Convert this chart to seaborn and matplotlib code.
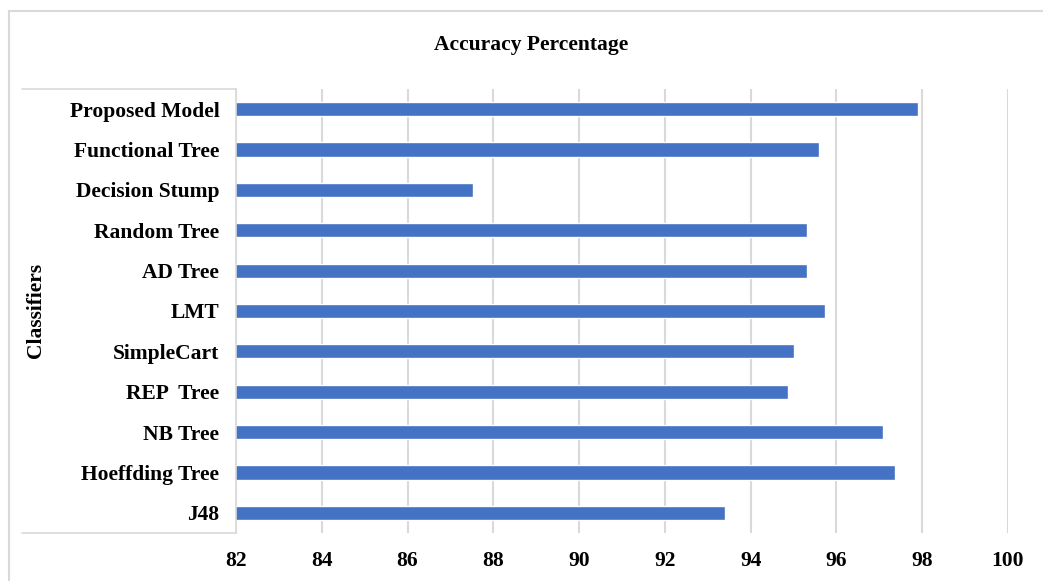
import matplotlib
matplotlib.use("Agg")
import matplotlib.pyplot as plt
import seaborn as sns
import pandas as pd
from matplotlib.patches import Rectangle
from matplotlib.lines import Line2D

classifiers = ["Proposed Model", "Functional Tree", "Decision Stump", "Random Tree",
               "AD Tree", "LMT", "SimpleCart", "REP  Tree", "NB Tree",
               "Hoeffding Tree", "J48"]
accuracy = [97.9, 95.6, 87.53, 95.32, 95.32, 95.74, 95.02, 94.88, 97.08, 97.36, 93.41]
x_ticks = [82, 84, 86, 88, 90, 92, 94, 96, 98, 100]

df = pd.DataFrame({"Classifier": classifiers, "Accuracy": accuracy})

sns.set_theme(style="white")
plt.rcParams["font.family"] = ["Liberation Serif", "DejaVu Serif"]
plt.rcParams["font.weight"] = "bold"
plt.rcParams["text.color"] = "black"
plt.rcParams["xtick.color"] = "black"
plt.rcParams["ytick.color"] = "black"

FS = 15.5
W, H = 1043, 581
fig = plt.figure(figsize=(W / 100, H / 100), dpi=100)
ax = fig.add_axes([236 / W, 1 - 533 / H, (1008 - 236) / W, (533 - 89) / H])

sns.barplot(data=df, y="Classifier", x="Accuracy", orient="h", color="#4472C4",
            saturation=1, width=0.35, ax=ax, order=classifiers, zorder=3)

ax.set_xlim(82, 100)
ax.set_xticks(x_ticks)
ax.set_xticklabels([str(t) for t in x_ticks], fontsize=FS, fontweight="bold", color="black")
ax.set_yticklabels(classifiers, fontsize=FS, fontweight="bold", color="black")
ax.tick_params(axis="x", length=0, pad=13)
ax.tick_params(axis="y", length=0, pad=12)
ax.set_xlabel("")
ax.set_ylabel("")
ax.grid(axis="x", color="#D9D9D9", linewidth=1.5, zorder=0)
ax.grid(axis="y", visible=False)
for s in ["top", "right", "bottom"]:
    ax.spines[s].set_visible(False)
ax.spines["left"].set_color("#D9D9D9")
ax.spines["left"].set_linewidth(1.2)
ax.spines["left"].set_zorder(4)

# label box lines
for yy in (89, 533):
    fig.add_artist(Line2D([22 / W, 236 / W], [1 - yy / H, 1 - yy / H],
                          color="#D9D9D9", linewidth=1.2, transform=fig.transFigure))

# outer border (cropped on right and bottom)
fig.add_artist(Rectangle((9 / W, -0.05), 1.2, 1 - 11 / H + 0.05, fill=False,
                         edgecolor="#D9D9D9", linewidth=1.5, transform=fig.transFigure))

fig.text(531 / W, 1 - 45 / H, "Accuracy Percentage", ha="center", va="center",
         fontsize=FS, fontweight="bold", color="black")
fig.text(36 / W, 1 - 310 / H, "Classifiers", ha="center", va="center",
         rotation=90, fontsize=FS, fontweight="bold", color="black")

fig.savefig("out.png", dpi=100)
